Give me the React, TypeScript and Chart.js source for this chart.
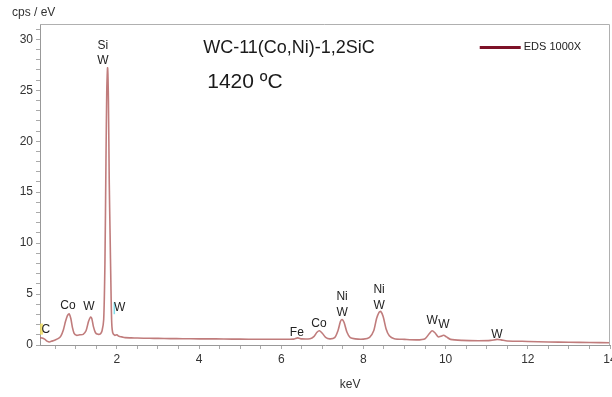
import React, { useEffect, useRef } from "react";
import { Chart, registerables } from "chart.js";

Chart.register(...registerables);

// Spectrum (keV, cps/eV)
const KEV = [
  0.13, 0.18, 0.25, 0.3, 0.36, 0.42, 0.5, 0.58, 0.64, 0.7, 0.75, 0.8, 0.84, 0.88, 0.92, 0.96,
  1.02, 1.1, 1.18, 1.25, 1.31, 1.36, 1.39, 1.43, 1.48, 1.54, 1.6, 1.64, 1.68, 1.71, 1.735, 1.755,
  1.775, 1.795, 1.815, 1.835, 1.855, 1.875, 1.9, 1.95, 2.0, 2.05, 2.12, 2.2, 2.35, 2.5, 2.8, 3.0,
  3.3, 3.6, 4.0, 4.4, 4.8, 5.2, 5.6, 6.0, 6.3, 6.4, 6.5, 6.7, 6.8, 6.87, 6.93, 7.0, 7.08, 7.18,
  7.3, 7.38, 7.44, 7.48, 7.53, 7.6, 7.68, 7.8, 8.0, 8.15, 8.25, 8.32, 8.38, 8.42, 8.48, 8.55,
  8.63, 8.75, 9.0, 9.3, 9.5, 9.6, 9.67, 9.74, 9.82, 9.88, 9.95, 10.02, 10.12, 10.4, 10.8, 11.1,
  11.25, 11.35, 11.5, 12.0, 12.5, 13.0, 13.5, 14.0,
];
const CPS = [
  0.7, 0.68, 0.55, 0.38, 0.3, 0.38, 0.5, 0.65, 0.9, 1.5, 2.3, 2.9, 3.05, 2.6, 1.7, 1.15,
  0.95, 1.0, 1.05, 1.4, 2.3, 2.75, 2.6, 1.8, 1.2, 1.05, 1.1, 1.4, 2.5, 8.0, 18.0, 25.0,
  27.2, 24.0, 16.0, 11.0, 6.0, 2.2, 1.2, 0.95, 1.0, 0.85, 0.8, 0.72, 0.7, 0.68, 0.66, 0.65,
  0.63, 0.62, 0.6, 0.6, 0.58, 0.57, 0.57, 0.56, 0.58, 0.7, 0.6, 0.62, 0.85, 1.25, 1.4, 1.15, 0.75, 0.6,
  0.72, 1.4, 2.3, 2.5, 2.2, 1.25, 0.72, 0.6, 0.58, 0.75, 1.4, 2.6, 3.2, 3.3, 2.8, 1.6,
  0.9, 0.62, 0.55, 0.5, 0.62, 1.1, 1.4, 1.2, 0.8, 0.85, 0.95, 0.8, 0.55, 0.45, 0.42, 0.45,
  0.55, 0.5, 0.4, 0.35, 0.3, 0.27, 0.24, 0.22,
];

const X_TICK_LABELS = [2, 4, 6, 8, 10, 12, 14];
const Y_TICK_LABELS = [0, 5, 10, 15, 20, 25, 30];

const SERIES_NAME = "EDS 1000X";
const Y_UNIT = "cps / eV";
const X_UNIT = "keV";
const TITLE_LINES = ["WC-11(Co,Ni)-1,2SiC", "1420 ºC"];

// Peak labels: text, keV, cps/eV (centre of label)
const PEAK_TEXT = ["Si", "W", "C", "Co", "W", "W", "Fe", "Co", "Ni", "W", "Ni", "W", "W", "W", "W"];
const PEAK_KEV = [1.66, 1.66, 0.27, 0.81, 1.32, 2.07, 6.38, 6.92, 7.48, 7.48, 8.38, 8.38, 9.67, 9.96, 11.25];
const PEAK_CPS = [29.4, 27.9, 1.5, 3.85, 3.75, 3.65, 1.2, 2.1, 4.75, 3.15, 5.45, 3.85, 2.4, 2.0, 1.0];

const overlay = {
  id: "overlay",
  afterDraw(chart: any) {
    const { ctx, chartArea, scales } = chart;
    const xs = scales.x;
    const ys = scales.y;
    ctx.save();
    // frame top & right
    ctx.strokeStyle = "#b0b0b0";
    ctx.lineWidth = 1;
    ctx.beginPath();
    ctx.moveTo(chartArea.left, chartArea.top + 0.5);
    ctx.lineTo(chartArea.right - 0.5, chartArea.top + 0.5);
    ctx.lineTo(chartArea.right - 0.5, chartArea.bottom);
    ctx.stroke();

    // y unit
    ctx.fillStyle = "#333";
    ctx.font = "12px 'Liberation Sans', Arial, sans-serif";
    ctx.textAlign = "left";
    ctx.textBaseline = "middle";
    ctx.fillText(Y_UNIT, 12, 13);

    // x unit
    ctx.textAlign = "center";
    ctx.fillText(X_UNIT, chartArea.left + (chartArea.right - chartArea.left) * 0.544, 385);

    // title
    ctx.fillStyle = "#1a1a1a";
    ctx.textAlign = "left";
    ctx.font = "18px 'Liberation Sans', Arial, sans-serif";
    ctx.fillText(TITLE_LINES[0], xs.getPixelForValue(4.1), ys.getPixelForValue(29.1));
    ctx.font = "21px 'Liberation Sans', Arial, sans-serif";
    ctx.fillText(TITLE_LINES[1], xs.getPixelForValue(4.2), ys.getPixelForValue(25.8));

    // legend
    const lx = xs.getPixelForValue(10.83);
    const ly = ys.getPixelForValue(29.2);
    ctx.strokeStyle = "#7d1128";
    ctx.lineWidth = 3;
    ctx.beginPath();
    ctx.moveTo(lx, ly);
    ctx.lineTo(lx + 41, ly);
    ctx.stroke();
    ctx.fillStyle = "#222";
    ctx.font = "11px 'Liberation Sans', Arial, sans-serif";
    ctx.fillText(SERIES_NAME, lx + 44, ly);

    // markers next to C and W
    ctx.fillStyle = "rgba(240,220,90,0.8)";
    ctx.fillRect(chartArea.left, ys.getPixelForValue(2.1), 3, 11);
    ctx.fillStyle = "rgba(120,220,235,0.9)";
    ctx.fillRect(xs.getPixelForValue(1.92), ys.getPixelForValue(4.2), 1.5, 12);

    // peak labels
    ctx.fillStyle = "#222";
    ctx.font = "12px 'Liberation Sans', Arial, sans-serif";
    ctx.textAlign = "center";
    for (let i = 0; i < PEAK_TEXT.length; i++) {
      ctx.fillText(PEAK_TEXT[i], xs.getPixelForValue(PEAK_KEV[i]), ys.getPixelForValue(PEAK_CPS[i]));
    }
    ctx.restore();
  },
};

export default function App() {
  const ref = useRef<HTMLCanvasElement>(null);
  useEffect(() => {
    if (!ref.current) return;
    const chart = new Chart(ref.current, {
      type: "line",
      data: {
        datasets: [
          {
            label: SERIES_NAME,
            data: KEV.map((k, i) => ({ x: k, y: CPS[i] })),
            borderColor: "rgba(185,110,110,0.9)",
            backgroundColor: "#7d1128",
            borderWidth: 1.6,
            pointRadius: 0,
            tension: 0.25,
            fill: false,
          },
        ],
      },
      options: {
        responsive: true,
        maintainAspectRatio: false,
        animation: false,
        layout: { autoPadding: false, padding: { top: 24, right: 2, left: 0, bottom: 0 } },
        plugins: { legend: { display: false }, tooltip: { enabled: false }, title: { display: false } },
        scales: {
          x: {
            type: "linear",
            min: 0.13,
            max: 14,
            afterFit: (s: any) => {
              s.height = 52;
              s.paddingLeft = 0;
              s.paddingRight = 0;
            },
            border: { display: true, color: "#999" },
            grid: { drawOnChartArea: false, drawTicks: true, tickLength: 4, color: "#aaa" },
            ticks: {
              stepSize: 0.5,
              includeBounds: false,
              autoSkip: false,
              maxRotation: 0,
              maxTicksLimit: 100,
              padding: 3,
              color: "#333",
              font: { family: "'Liberation Sans', Arial, sans-serif", size: 12 },
              callback: (v: any) => (X_TICK_LABELS.includes(Number(v)) ? String(v) : ""),
            },
          },
          y: {
            min: 0,
            max: 31.5,
            afterFit: (s: any) => {
              s.width = 40;
              s.paddingTop = 0;
              s.paddingBottom = 0;
            },
            border: { display: true, color: "#999" },
            grid: { drawOnChartArea: false, drawTicks: true, tickLength: 4, color: "#aaa" },
            ticks: {
              stepSize: 1,
              includeBounds: false,
              autoSkip: false,
              maxTicksLimit: 100,
              padding: 3,
              color: "#333",
              font: { family: "'Liberation Sans', Arial, sans-serif", size: 12 },
              callback: (v: any) => (Y_TICK_LABELS.includes(Number(v)) ? String(v) : ""),
            },
          },
        },
      },
      plugins: [overlay],
    });
    return () => chart.destroy();
  }, []);
  return (
    <div style={{ position: "absolute", left: 0, top: 0, width: 612, height: 397, background: "#fff" }}>
      <canvas ref={ref} />
    </div>
  );
}
